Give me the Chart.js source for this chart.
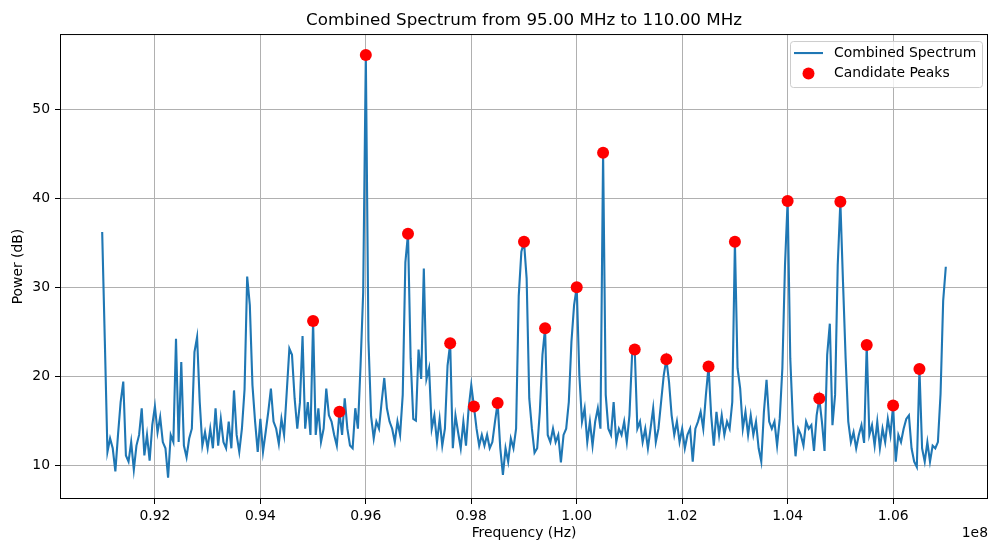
<!DOCTYPE html>
<html>
<head>
<meta charset="utf-8">
<script src="https://cdn.jsdelivr.net/npm/chart.js@4.4.0/dist/chart.umd.min.js"></script>
<style>
  html, body { margin: 0; padding: 0; background: #fff; }
</style>
</head>
<body>
<canvas id="spectrumChart" width="994" height="542"></canvas>
<script>
"use strict";

// frequency grid of the combined spectrum (MHz)
const freqStart = 91.0;
const freqStep = 0.05;

// power (dB), one row per MHz
const power = [
  36.2, 24.0, 11.5, 13.0, 11.9, 9.3, 13.4, 17.1, 19.4, 11.1, 10.4, 12.6, 9.5, 12.2, 13.4, 16.4, 11.1, 13.4, 10.5, 14.5,
  16.6, 13.7, 15.4, 12.6, 11.9, 8.6, 13.4, 12.6, 24.2, 12.6, 21.6, 12.2, 10.9, 13.0, 14.1, 22.7, 24.4, 17.1, 12.2, 13.7,
  11.9, 14.1, 11.9, 16.4, 12.2, 15.2, 12.6, 11.9, 14.9, 11.9, 18.4, 13.4, 11.5, 14.1, 18.5, 31.2, 28.0, 19.0, 14.9, 11.5,
  15.2, 11.5, 13.7, 16.0, 18.6, 14.9, 14.1, 12.4, 15.2, 13.4, 18.2, 23.1, 22.4, 17.5, 14.1, 17.0, 24.5, 14.1, 17.1, 13.4,
  26.2, 13.4, 16.4, 12.6, 14.1, 18.6, 15.6, 14.9, 13.4, 12.2, 16.0, 13.4, 17.5, 14.1, 12.2, 11.9, 16.4, 14.1, 21.2, 29.4,
  56.1, 24.0, 15.5, 13.0, 14.9, 14.1, 17.1, 19.8, 16.4, 14.9, 14.1, 12.6, 14.9, 13.4, 17.9, 32.8, 36.0, 22.0, 15.2, 15.0,
  23.0, 19.7, 32.1, 19.7, 20.9, 14.1, 15.6, 12.6, 15.2, 12.2, 14.1, 21.2, 23.7, 11.9, 15.6, 13.7, 11.9, 14.9, 12.2, 16.4,
  19.0, 16.6, 14.1, 12.2, 13.4, 12.2, 13.4, 11.9, 12.6, 14.9, 17.0, 11.9, 8.9, 11.9, 10.4, 13.0, 11.9, 14.1, 29.0, 34.0,
  35.1, 31.0, 17.5, 14.1, 11.4, 11.9, 16.0, 22.4, 25.4, 13.4, 12.6, 14.1, 12.6, 13.4, 10.3, 13.4, 14.1, 17.1, 23.9, 28.0,
  30.0, 20.1, 14.9, 16.4, 12.6, 14.9, 12.2, 14.9, 16.4, 14.1, 45.1, 17.9, 14.1, 13.4, 17.1, 12.6, 14.1, 13.4, 14.9, 12.6,
  15.6, 22.4, 23.0, 14.1, 14.9, 12.6, 14.1, 11.9, 14.1, 16.4, 12.6, 14.1, 17.1, 20.1, 21.9, 19.4, 15.6, 13.4, 14.9, 12.6,
  14.1, 11.9, 13.4, 14.1, 10.4, 14.1, 14.9, 16.0, 14.1, 17.9, 21.1, 15.6, 12.2, 16.0, 13.4, 15.6, 13.4, 14.9, 14.1, 17.1,
  35.1, 20.9, 18.6, 14.1, 16.0, 13.4, 15.6, 13.4, 14.9, 11.9, 10.4, 16.0, 19.6, 14.9, 14.1, 14.9, 12.2, 15.2, 20.9, 32.5,
  39.7, 22.0, 14.9, 11.0, 14.1, 13.4, 12.2, 14.9, 14.1, 14.5, 11.6, 15.6, 17.5, 14.9, 11.6, 22.4, 25.9, 14.5, 17.9, 32.5,
  39.6, 30.6, 22.0, 14.9, 12.6, 13.7, 11.9, 13.4, 14.5, 12.5, 23.5, 13.4, 14.5, 12.2, 14.9, 11.9, 14.1, 12.6, 15.2, 13.4,
  16.7, 10.4, 13.4, 12.6, 14.1, 15.2, 15.6, 11.9, 10.4, 9.8, 20.8, 11.9, 10.4, 12.6, 10.4, 12.2, 11.9, 12.6, 18.0, 28.5,
  32.3
];

// candidate peaks (MHz, dB)
const peakFreq = [95.0, 95.5, 96.0, 96.8, 97.6, 98.05, 98.5, 99.0, 99.4, 100.0, 100.5,
  101.1, 101.7, 102.5, 103.0, 104.0, 104.6, 105.0, 105.5, 106.0, 106.5];
const peakPower = [26.2, 16.0, 56.1, 36.0, 23.7, 16.6, 17.0, 35.1, 25.4, 30.0, 45.1,
  23.0, 21.9, 21.1, 35.1, 39.7, 17.5, 39.6, 23.5, 16.7, 20.8];

// axis ticks
const xTicks = [92, 94, 96, 98, 100, 102, 104, 106];
const yTicks = [10, 20, 30, 40, 50];

const lineColor = "#1f77b4";
const fontFamily = "'DejaVu Sans', sans-serif";
Chart.defaults.font.family = fontFamily;
Chart.defaults.color = "#000";

const spectrumPts = power.map((p, i) => ({ x: freqStart + i * freqStep, y: p }));
const peakPts = peakFreq.map((f, i) => ({ x: f, y: peakPower[i] }));

// spines + offset text + legend, matplotlib style
const framePlugin = {
  id: "frame",
  afterDraw(chart) {
    const { ctx, chartArea: a } = chart;
    ctx.save();
    ctx.strokeStyle = "#000";
    ctx.lineWidth = 1;
    ctx.strokeRect(a.left + 0.5, a.top + 0.5, a.right - a.left - 1, a.bottom - a.top - 1);

    ctx.font = "13.9px " + fontFamily;
    ctx.fillStyle = "#000";
    ctx.textAlign = "right";
    ctx.textBaseline = "middle";
    ctx.fillText("1e8", a.right, 533);

    // legend box
    const bx = a.right - 198, by = a.top + 7, bw = 192, bh = 46;
    ctx.beginPath();
    ctx.roundRect(bx + 0.5, by + 0.5, bw, bh, 3);
    ctx.fillStyle = "rgba(255,255,255,0.8)";
    ctx.fill();
    ctx.strokeStyle = "#cccccc";
    ctx.stroke();

    const ds = chart.data.datasets;
    ctx.strokeStyle = lineColor;
    ctx.lineWidth = 2.1;
    ctx.beginPath();
    ctx.moveTo(bx + 4, by + 12);
    ctx.lineTo(bx + 33, by + 12);
    ctx.stroke();
    ctx.fillStyle = "red";
    ctx.beginPath();
    ctx.arc(bx + 18.5, by + 32.5, 6, 0, Math.PI * 2);
    ctx.fill();

    ctx.fillStyle = "#000";
    ctx.textAlign = "left";
    ctx.fillText(ds[0].label, bx + 44, by + 12);
    ctx.fillText(ds[1].label, bx + 44, by + 32.5);
    ctx.restore();
  },
};

const config = {
  type: "line",
  data: {
    datasets: [
      {
        label: "Combined Spectrum",
        data: spectrumPts,
        borderColor: lineColor,
        backgroundColor: lineColor,
        borderWidth: 2.1,
        pointRadius: 0,
        tension: 0,
        order: 2,
      },
      {
        label: "Candidate Peaks",
        data: peakPts,
        showLine: false,
        pointRadius: 6,
        pointBorderWidth: 0,
        pointBackgroundColor: "red",
        borderColor: "red",
        order: 1,
      },
    ],
  },
  options: {
    responsive: false,
    animation: false,
    layout: { padding: { top: 0, left: 0, right: 2, bottom: 0 } },
    plugins: {
      legend: { display: false },
      tooltip: { enabled: false },
      title: {
        display: true,
        fullSize: false,
        text: "Combined Spectrum from 95.00 MHz to 110.00 MHz",
        color: "#000",
        font: { size: 16.7, weight: "normal" },
        padding: { top: 11, bottom: 3 },
      },
    },
    scales: {
      x: {
        type: "linear",
        min: 90.2,
        max: 107.8,
        afterBuildTicks: (s) => { s.ticks = xTicks.map((v) => ({ value: v })); },
        afterFit: (s) => { s.height = 43; },
        ticks: {
          callback: (v) => (v / 100).toFixed(2),
          maxRotation: 0,
          autoSkip: false,
          padding: 4,
          color: "#000",
          font: { size: 13.9 },
        },
        grid: { color: "#b0b0b0", lineWidth: 1, tickColor: "#000", tickLength: 5, tickWidth: 1 },
        border: { display: false },
        title: { display: true, text: "Frequency (Hz)", color: "#000", font: { size: 13.9 }, padding: { top: 0, bottom: 0 } },
      },
      y: {
        min: 6.2,
        max: 58.45,
        afterBuildTicks: (s) => { s.ticks = yTicks.map((v) => ({ value: v })); },
        afterFit: (s) => { s.width = 60; },
        ticks: { padding: 5, color: "#000", font: { size: 13.9 } },
        grid: { color: "#b0b0b0", lineWidth: 1, tickColor: "#000", tickLength: 5, tickWidth: 1 },
        border: { display: false },
        title: { display: true, text: "Power (dB)", color: "#000", font: { size: 13.9 }, padding: { top: 10, bottom: 0 } },
      },
    },
  },
  plugins: [framePlugin],
};

const spectrumChart = new Chart(document.getElementById("spectrumChart"), config);
</script>
</body>
</html>
